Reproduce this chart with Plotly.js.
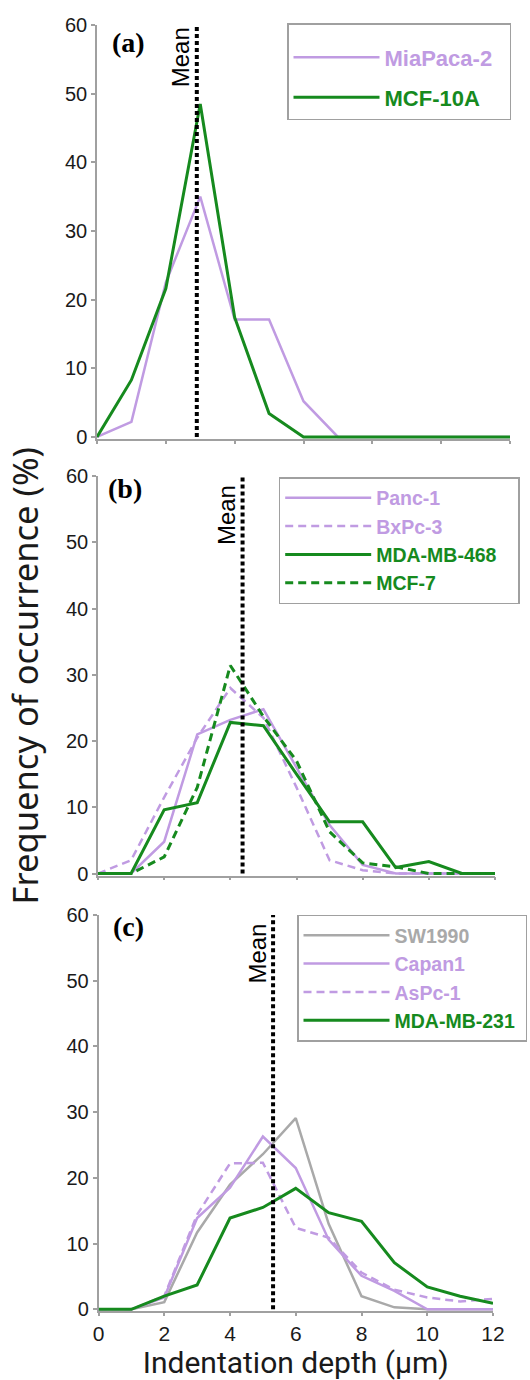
<!DOCTYPE html>
<html><head><meta charset="utf-8">
<script src="https://cdn.plot.ly/plotly-3.0.1.min.js"></script>
<style>html,body{margin:0;padding:0;background:#fff}</style>
</head><body><div id="chart" style="width:530px;height:1380px"></div>
<script>
// ---- data ----
const depth = [0, 1, 2, 3, 4, 5, 6, 7, 8, 9, 10, 11, 12];
const xTickVals = [0, 2, 4, 6, 8, 10, 12];
const yTickVals = [0, 10, 20, 30, 40, 50, 60];
const panelLabels = ['(a)', '(b)', '(c)'];
const meanDepth = [2.9, 4.37, 5.31];
const meanSpan = [0, 60];

// panel (a)
const miaPaca2 = [0, 2.2, 22.5, 35.0, 17.1, 17.1, 5.2, 0, 0, 0, 0, 0, 0];
const mcf10A   = [0, 8.3, 21.6, 48.5, 17.4, 3.4, 0, 0, 0, 0, 0, 0, 0];
// panel (b)
const panc1    = [0, 0, 4.8, 21.0, 23.2, 24.8, 16.0, 7.3, 1.3, 0, 0, 0, 0];
const bxPc3    = [0, 2.0, 11.5, 20.5, 28.0, 23.5, 13.0, 2.0, 0.5, 0, 0, 0, 0];
const mdaMb468 = [0, 0, 9.6, 10.7, 22.8, 22.3, 15.0, 7.8, 7.8, 0.9, 1.8, 0, 0];
const mcf7     = [0, 0, 2.5, 13.0, 31.4, 23.7, 17.0, 6.3, 1.6, 1.0, 0, 0, 0];
// panel (c)
const sw1990   = [0, 0, 1.1, 11.7, 19.0, 23.6, 29.1, 13.0, 2.0, 0.3, 0, 0, 0];
const capan1   = [0, 0, 1.8, 13.9, 18.5, 26.3, 21.5, 10.6, 5.1, 2.8, 0, 0, 0];
const asPc1    = [0, 0, 2.0, 14.4, 22.2, 22.3, 12.4, 10.9, 5.6, 3.0, 1.8, 1.2, 1.6];
const mdaMb231 = [0, 0, 2.0, 3.7, 13.9, 15.5, 18.4, 14.7, 13.4, 7.1, 3.4, 2.0, 0.9];

// ---- styling ----
const PURPLE = '#c09be2', GREEN = '#168a1e', GRAY = '#a9a9a9', AXIS = '#a0a0a0';
const SANS = 'Liberation Sans, Arial, sans-serif';
const W = 530, H = 1380;
const fx = p => p / W, fy = p => 1 - p / H;
const NB = '\u00a0';
function lbl(text, color, pad) { return '<span style="color:' + color + '"><b>' + text + NB.repeat(pad || 0) + '</b></span>'; }
function line(y, name, color, width, dash, xa, ya, leg, group) {
  return {x: depth, y: y, type: 'scatter', mode: 'lines', name: name,
    line: {color: color, width: width, dash: dash || 'solid'},
    xaxis: xa, yaxis: ya, legend: leg, legendgroup: group, hoverinfo: 'x+y'};
}
function meanTrace(i, xa, ya) {
  return {x: [meanDepth[i], meanDepth[i]], y: meanSpan, type: 'scatter', mode: 'lines',
    line: {color: '#000', width: 4, dash: '4px,3px'}, showlegend: false,
    xaxis: xa, yaxis: ya, hoverinfo: 'x'};
}
const DASH = '8px,5px';
const data = [
  line(miaPaca2, lbl('MiaPaca-2', PURPLE, 2), PURPLE, 2.5, null, 'x', 'y', 'legend', 'a1'),
  line(mcf10A, lbl('MCF-10A', GREEN), GREEN, 3, null, 'x', 'y', 'legend', 'a2'),
  line(panc1, lbl('Panc-1', PURPLE), PURPLE, 2.5, null, 'x2', 'y2', 'legend2'),
  line(bxPc3, lbl('BxPc-3', PURPLE), PURPLE, 2.5, DASH, 'x2', 'y2', 'legend2'),
  line(mdaMb468, lbl('MDA-MB-468', GREEN, 3), GREEN, 3, null, 'x2', 'y2', 'legend2'),
  line(mcf7, lbl('MCF-7', GREEN), GREEN, 3, DASH, 'x2', 'y2', 'legend2'),
  line(sw1990, lbl('SW1990', GRAY), GRAY, 2.5, null, 'x3', 'y3', 'legend3'),
  line(capan1, lbl('Capan1', PURPLE), PURPLE, 2.5, null, 'x3', 'y3', 'legend3'),
  line(asPc1, lbl('AsPc-1', PURPLE), PURPLE, 2.5, DASH, 'x3', 'y3', 'legend3'),
  line(mdaMb231, lbl('MDA-MB-231', GREEN, 1), GREEN, 3, null, 'x3', 'y3', 'legend3'),
  meanTrace(0, 'x', 'y'), meanTrace(1, 'x2', 'y2'), meanTrace(2, 'x3', 'y3')
];
function xAxis(dom, anchor, labels) {
  return {domain: dom, anchor: anchor, range: [0, 12], tickvals: xTickVals,
    showticklabels: labels, ticks: 'outside', ticklen: 3, tickwidth: 1.5, tickcolor: AXIS,
    showline: true, linecolor: AXIS, linewidth: 1.5, showgrid: false, zeroline: false,
    layer: 'below traces', fixedrange: true, ticklabelstandoff: 0,
    tickfont: {family: SANS, size: 21, color: '#1a1a1a'}};
}
function yAxis(dom, anchor) {
  return {domain: dom, anchor: anchor, range: [-0.3, 60], tickvals: yTickVals,
    ticks: 'outside', ticklen: 4, tickwidth: 1.5, tickcolor: AXIS,
    showline: true, linecolor: AXIS, linewidth: 1.5, showgrid: false, zeroline: false,
    layer: 'below traces', fixedrange: true,
    tickfont: {family: SANS, size: 20, color: '#1a1a1a'}};
}
function legendBox(x, yTop, size, gap) {
  return {x: x, y: yTop, xanchor: 'left', yanchor: 'top', bgcolor: '#fff',
    bordercolor: AXIS, borderwidth: 1.5, itemwidth: 86, tracegroupgap: gap || 0,
    font: {family: SANS, size: size, weight: 700}, itemclick: false, itemdoubleclick: false};
}
const serif = {family: 'Liberation Serif, Times New Roman, serif', size: 28, color: '#000'};
const meanFont = {family: SANS, size: 24, color: '#000'};
const layout = {
  width: W, height: H, margin: {l: 0, r: 0, t: 0, b: 0},
  paper_bgcolor: '#fff', plot_bgcolor: '#fff', showlegend: true,
  xaxis: xAxis([fx(97), fx(510)], 'y', false),
  yaxis: yAxis([fy(439), fy(25)], 'x'),
  xaxis2: xAxis([fx(98), fx(495)], 'y2', false),
  yaxis2: Object.assign(yAxis([fy(875.5), fy(476)], 'x2'), {
    title: {text: NB + NB + 'Frequency of occurrence (%)', standoff: 17,
      font: {family: 'Noto Sans, sans-serif', size: 34.5, color: '#1a1a1a'}}}),
  xaxis3: Object.assign(xAxis([fx(98.5), fx(493)], 'y3', true), {
    title: {text: 'Indentation depth (\u00b5m)', standoff: 23,
      font: {family: 'Roboto, Noto Sans, sans-serif', size: 30, color: '#1a1a1a'}}}),
  yaxis3: yAxis([fy(1311.3), fy(915)], 'x3'),
  legend: Object.assign(legendBox(fx(287), fy(23.3), 22, 8.4), {traceorder: 'grouped',
    title: {text: NB, font: {family: SANS, size: 9}}}),
  legend2: legendBox(fx(278.7), fy(477), 19.5),
  legend3: legendBox(fx(297), fy(914.6), 19.5),
  annotations: [
    {text: '<b>' + panelLabels[0] + '</b>', xref: 'paper', yref: 'paper', x: fx(128), y: fy(42),
      xanchor: 'center', yanchor: 'middle', showarrow: false, font: serif},
    {text: '<b>' + panelLabels[1] + '</b>', xref: 'paper', yref: 'paper', x: fx(125), y: fy(488),
      xanchor: 'center', yanchor: 'middle', showarrow: false, font: serif},
    {text: '<b>' + panelLabels[2] + '</b>', xref: 'paper', yref: 'paper', x: fx(128), y: fy(926.7),
      xanchor: 'center', yanchor: 'middle', showarrow: false, font: serif},
    {text: 'Mean', xref: 'x', yref: 'y', x: meanDepth[0], y: meanSpan[1], xanchor: 'right', yanchor: 'top',
      xshift: 0, yshift: 0, textangle: -90, showarrow: false, font: meanFont},
    {text: 'Mean', xref: 'x2', yref: 'y2', x: meanDepth[1], y: meanSpan[1], xanchor: 'right', yanchor: 'top',
      xshift: 0, yshift: -7, textangle: -90, showarrow: false, font: meanFont},
    {text: 'Mean', xref: 'x3', yref: 'y3', x: meanDepth[2], y: meanSpan[1], xanchor: 'right', yanchor: 'top',
      xshift: 0, yshift: -7, textangle: -90, showarrow: false, font: meanFont}
  ]
};
Plotly.newPlot('chart', data, layout, {displayModeBar: false});
</script></body></html>
